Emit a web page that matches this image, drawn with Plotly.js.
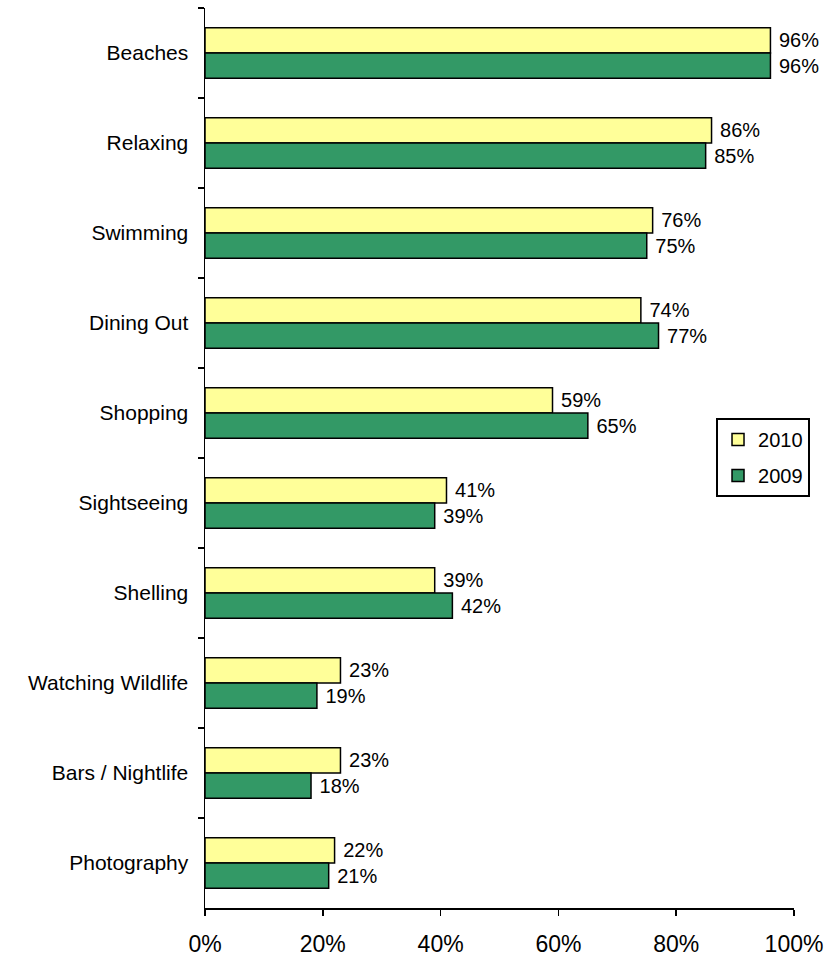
<!DOCTYPE html>
<html>
<head>
<meta charset="utf-8">
<script src="https://cdn.plot.ly/plotly-3.0.1.min.js"></script>
<style>html,body{margin:0;padding:0;background:#fff;}#chart{width:838px;height:958px;}</style>
</head>
<body>
<div id="chart"></div>
<script>
const categories = ["Beaches", "Relaxing", "Swimming", "Dining Out", "Shopping", "Sightseeing", "Shelling", "Watching Wildlife", "Bars / Nightlife", "Photography"];
const values2010 = [96, 86, 76, 74, 59, 41, 39, 23, 23, 22];
const values2009 = [96, 85, 75, 77, 65, 39, 42, 19, 18, 21];
const xTickVals = [0, 20, 40, 60, 80, 100];
const xTickText = ["0%", "20%", "40%", "60%", "80%", "100%"];

const FONT = "Liberation Sans, Arial, sans-serif";

function barTrace(name, vals, color, group) {
  return {
    type: "bar",
    orientation: "h",
    name: name,
    legendgroup: group,
    y: categories,
    x: vals,
    text: vals.map(v => "\u00a0" + v + "%"),
    textposition: "outside",
    constraintext: "none",
    cliponaxis: false,
    textfont: {family: FONT, size: 20, color: "#000"},
    marker: {color: color, line: {color: "#000", width: 1.5}},
    hoverinfo: "none"
  };
}

const data = [
  barTrace("2010", values2010, "#FFFF99", "a"),
  barTrace("2009", values2009, "#339966", "b")
];

const layout = {
  width: 838,
  height: 958,
  margin: {l: 205, r: 44, t: 8, b: 50},
  paper_bgcolor: "#fff",
  plot_bgcolor: "#fff",
  barmode: "group",
  bargap: 0.44,
  bargroupgap: 0,
  font: {family: FONT, color: "#000"},
  showlegend: true,
  legend: {
    x: 0.8676, y: 0.5444, xanchor: "left", yanchor: "top",
    bgcolor: "#fff", bordercolor: "#000", borderwidth: 2,
    font: {family: FONT, size: 20, color: "#000"},
    traceorder: "grouped",
    tracegroupgap: 7
  },
  xaxis: {
    range: [0, 100],
    tickvals: xTickVals,
    ticktext: xTickText,
    ticks: "outside",
    ticklen: 6,
    tickcolor: "#000",
    tickwidth: 1.5,
    showline: true,
    linecolor: "#000",
    linewidth: 1.5,
    showgrid: false,
    zeroline: false,
    ticklabelstandoff: 9,
    tickfont: {family: FONT, size: 23, color: "#000"},
    fixedrange: true
  },
  yaxis: {
    type: "category",
    autorange: "reversed",
    ticks: "outside",
    tickson: "boundaries",
    ticklen: 6,
    tickcolor: "#000",
    tickwidth: 1.5,
    showline: true,
    linecolor: "#000",
    linewidth: 1.5,
    showgrid: false,
    zeroline: false,
    ticklabelstandoff: 11,
    tickfont: {family: FONT, size: 21, color: "#000"},
    fixedrange: true
  }
};

Plotly.newPlot("chart", data, layout, {displayModeBar: false, staticPlot: true});
</script>
</body>
</html>
